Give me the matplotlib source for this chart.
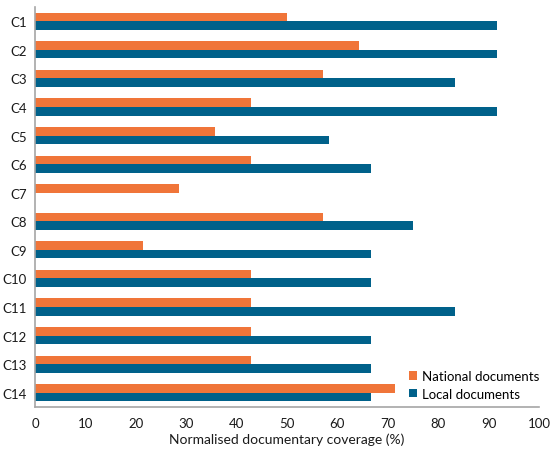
import numpy as np
import matplotlib.pyplot as plt

plt.rcParams["font.family"] = ["Lato", "DejaVu Sans"]

categories = ["C1", "C2", "C3", "C4", "C5", "C6", "C7",
              "C8", "C9", "C10", "C11", "C12", "C13", "C14"]
national = [50.0, 64.3, 57.1, 42.9, 35.7, 42.9, 28.6,
            57.1, 21.4, 42.9, 42.9, 42.9, 42.9, 71.4]
local = [91.7, 91.7, 83.3, 91.7, 58.3, 66.7, 0.0,
         75.0, 66.7, 66.7, 83.3, 66.7, 66.7, 66.7]

orange = "#F07539"
blue = "#00618A"
grey = "#A6A6A6"

fig = plt.figure(figsize=(5.5, 4.52), dpi=100)
ax = fig.add_axes([35 / 550, 1 - 408 / 452, 504 / 550, 400 / 452])

y = np.arange(len(categories))
h = 0.3
ax.barh(y - h / 2, national, height=h, color=orange, label="National documents")
ax.barh(y + h / 2, local, height=h, color=blue, label="Local documents")

ax.set_ylim(len(categories) - 0.5, -0.5)
ax.set_xlim(0, 100)
ax.set_xticks(range(0, 101, 10))
ax.set_yticks(y)
ax.set_yticklabels(categories)
ax.tick_params(axis="both", length=0, labelsize=9.5, colors="#1a1a1a")
ax.tick_params(axis="x", pad=7)
ax.tick_params(axis="y", pad=6)
ax.set_xlabel("Normalised documentary coverage (%)", fontsize=10, color="#1a1a1a", labelpad=3)

for s in ["top", "right"]:
    ax.spines[s].set_visible(False)
for s in ["left", "bottom"]:
    ax.spines[s].set_color(grey)
    ax.spines[s].set_linewidth(1.2)

ax.legend(loc="lower right", bbox_to_anchor=(1.025, -0.012), frameon=False,
          fontsize=9.5, handlelength=0.6, handleheight=0.6, handletextpad=0.4,
          labelspacing=0.45)

fig.savefig("out.png", dpi=100)
